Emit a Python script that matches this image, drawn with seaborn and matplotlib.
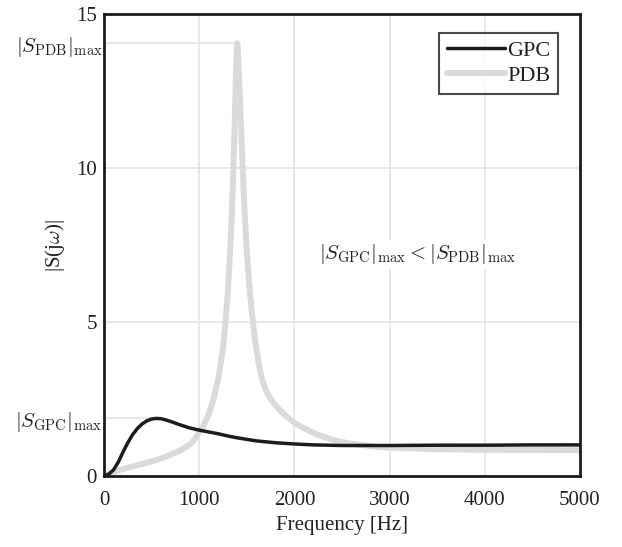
import numpy as np
import pandas as pd
import seaborn as sns
import matplotlib
matplotlib.use("Agg")
import matplotlib.pyplot as plt

# ---- data ----
gpc_freq = [0, 50, 100, 150, 200, 250, 300, 350, 400, 450, 500, 550, 600, 650, 700,
            800, 900, 1000, 1100, 1200, 1300, 1400, 1500, 1600, 1700, 1800, 2000,
            2200, 2500, 3000, 3500, 4000, 4500, 5000]
gpc_mag = [0, 0.06, 0.2, 0.45, 0.78, 1.08, 1.34, 1.54, 1.69, 1.79, 1.85, 1.87, 1.86, 1.82, 1.77,
           1.66, 1.56, 1.49, 1.43, 1.37, 1.30, 1.24, 1.19, 1.14, 1.11, 1.08, 1.04,
           1.01, 0.99, 0.99, 1.0, 1.0, 1.01, 1.01]

pdb_freq = [0, 100, 200, 300, 400, 500, 600, 700, 800, 900, 950, 1000, 1050, 1100, 1150, 1200,
            1250, 1275, 1300, 1330, 1350, 1370, 1385, 1395, 1400, 1405, 1415, 1430, 1450, 1475,
            1500, 1525, 1550, 1575, 1600, 1625, 1650, 1675, 1700, 1750, 1800, 1850, 1900, 2000,
            2100, 2200, 2300, 2400, 2500, 2600, 2800, 3000, 3500, 4000, 4500, 5000]
pdb_mag = [0, 0.12, 0.23, 0.31, 0.39, 0.47, 0.57, 0.69, 0.83, 1.02, 1.18, 1.42, 1.66, 2.0, 2.5, 3.15,
           4.15, 4.95, 5.95, 7.6, 9.1, 11.1, 12.9, 13.8, 14.05, 13.85, 13.2, 12.1, 10.5, 8.7,
           7.3, 6.25, 5.4, 4.7, 4.12, 3.65, 3.28, 3.0, 2.78, 2.5, 2.3, 2.13, 1.98, 1.73,
           1.55, 1.4, 1.28, 1.18, 1.1, 1.05, 0.97, 0.92, 0.87, 0.85, 0.845, 0.84]

series_names = ["GPC", "PDB"]
x_ticks = [0, 1000, 2000, 3000, 4000, 5000]
y_ticks_plain = [0, 5, 10, 15]
annotation = r"$|S_{\mathrm{GPC}}|_{\max} < |S_{\mathrm{PDB}}|_{\max}$"
gpc_max_label = r"$|S_{\mathrm{GPC}}|_{\max}$"
pdb_max_label = r"$|S_{\mathrm{PDB}}|_{\max}$"

df = pd.concat([
    pd.DataFrame({"f": gpc_freq, "S": gpc_mag, "method": series_names[0]}),
    pd.DataFrame({"f": pdb_freq, "S": pdb_mag, "method": series_names[1]}),
], ignore_index=True)

sns.set_theme(style="white")
plt.rcParams["font.family"] = ["Liberation Serif", "DejaVu Serif"]
plt.rcParams["mathtext.fontset"] = "cm"

fig = plt.figure(figsize=(6.22, 5.47), dpi=100)
ax = fig.add_axes([104 / 622, 1 - 476 / 547, 476 / 622, 462 / 547])

grid_c = "#e4e4e4"
# grid lines
for xv in x_ticks[1:-1]:
    ax.axvline(xv, color=grid_c, lw=1.2, zorder=0)
for yv in y_ticks_plain[1:-1]:
    ax.axhline(yv, color=grid_c, lw=1.2, zorder=0)

gpc_peak = max(gpc_mag)
pdb_peak = max(pdb_mag)
gpc_peak_f = gpc_freq[int(np.argmax(gpc_mag))]
pdb_peak_f = pdb_freq[int(np.argmax(pdb_mag))]
ax.hlines(gpc_peak, 0, gpc_peak_f, color=grid_c, lw=1.2, zorder=0)
ax.hlines(pdb_peak, 0, pdb_peak_f, color=grid_c, lw=1.2, zorder=0)

sns.lineplot(data=df[df.method == "GPC"], x="f", y="S", color="#1e1b1c", lw=2.5,
             ax=ax, label="GPC", zorder=3)
sns.lineplot(data=df[df.method == "PDB"], x="f", y="S", color="#dadada", lw=4.3,
             ax=ax, label="PDB", zorder=2)
for ln in ax.get_lines():
    ln.set_solid_joinstyle("round")

ax.set_xlim(0, 5000)
ax.set_ylim(0, 15)
ax.set_xticks(x_ticks)
ax.set_xticklabels([str(v) for v in x_ticks])
yt = [0, gpc_peak, 5, 10, pdb_peak, 15]
ax.set_yticks(yt)
ax.set_yticklabels(["0", gpc_max_label, "5", "10", pdb_max_label, "15"])
ax.tick_params(axis="both", direction="in", length=4, width=1.5, labelsize=15,
               color="black", labelcolor="#222222")
ax.tick_params(axis="x", pad=11)
ax.tick_params(axis="y", pad=5)
for i in (1, 4):
    tk = ax.yaxis.get_major_ticks()[i]
    tk.tick1line.set_visible(False)
    tk.set_pad(1)

for s in ax.spines.values():
    s.set_color("#1e1b1c")
    s.set_linewidth(2)

ax.set_xlabel("Frequency [Hz]", fontsize=15, color="#222222")
ax.set_ylabel(r"|S(j$\omega$)|", fontsize=15, color="#222222")
ax.yaxis.set_label_coords(-0.078, 0.5)

ax.text(3290, 7.2, annotation, fontsize=15, ha="center", va="center", color="#222222",
        bbox=dict(facecolor="white", edgecolor="none", pad=2), zorder=1)

leg = ax.legend(loc="upper right", bbox_to_anchor=(0.954, 0.959), borderaxespad=0,
                fontsize=16, frameon=True, fancybox=False, handlelength=2.6,
                handletextpad=0.1, labelspacing=0.2, borderpad=0.35)
leg.get_frame().set_edgecolor("#1e1b1c")
leg.get_frame().set_linewidth(1.5)
for t in leg.get_texts():
    t.set_color("#222222")

fig.savefig("out.png", dpi=100)
